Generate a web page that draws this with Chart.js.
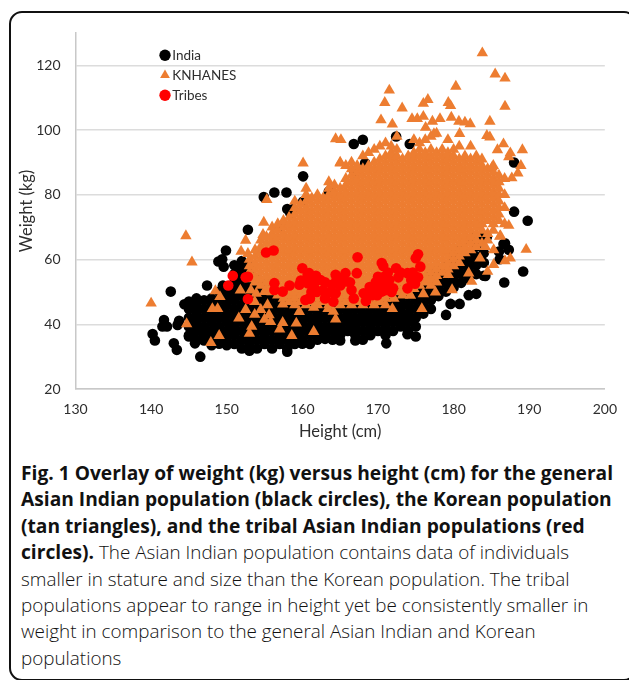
<!DOCTYPE html>
<html>
<head>
<meta charset="utf-8">
<title>Fig. 1</title>
<script src="https://cdn.jsdelivr.net/npm/chart.js@4"></script>
<style>
html, body { margin: 0; padding: 0; background: #fff; }
#page { position: relative; width: 629px; height: 680px; overflow: hidden; }
#frame { position: absolute; left: 9px; top: 11px; width: 628px; height: 670px; border: 2.5px solid #111; border-radius: 13px; box-sizing: border-box; }
#plot { position: absolute; left: 0; top: 0; width: 629px; height: 450px; }
#caption { position: absolute; left: 21px; top: 460px; width: 606px; font-family: "Open Sans", sans-serif; font-size: 18.85px; font-weight: 300; line-height: 26.4px; color: #111; white-space: nowrap; }
#caption b { color: #111; font-weight: 700; font-size: 19.2px; }
</style>
</head>
<body>
<div id="page">
  <div id="frame"></div>
  <div id="plot"><canvas id="chart" width="629" height="450"></canvas></div>
  <div id="caption">
    <b>Fig. 1 Overlay of weight (kg) versus height (cm) for the general<br>
    Asian Indian population (black circles), the Korean population<br>
    (tan triangles), and the tribal Asian Indian populations (red<br>
    circles).</b> The Asian Indian population contains data of individuals<br>
    smaller in stature and size than the Korean population. The tribal<br>
    populations appear to range in height yet be consistently smaller in<br>
    weight in comparison to the general Asian Indian and Korean<br>
    populations
  </div>
</div>
<script>
'use strict';

var seriesNames = ['India', 'KNHANES', 'Tribes'];
var xTicks = [130, 140, 150, 160, 170, 180, 190, 200];
var yTicks = [20, 40, 60, 80, 100, 120];

// India: height column, then the weights read in that column
var indiaColumns = [
  [145, [36.6, 39.3, 42, 44.7, 47]],
  [146, [35.2, 37.9, 40.6, 43.3, 46, 48]],
  [147, [35, 36.6, 39.3, 42, 44.7, 47.4]],
  [148, [33.5, 35.2, 37.9, 40.6, 43.3, 46, 48]],
  [149, [34, 36.6, 39.3, 42, 44.7, 47.4, 50.1]],
  [150, [33.5, 35.2, 37.9, 40.6, 43.3, 46, 48.7, 51.4]],
  [151, [33.9, 36.6, 39.3, 42, 44.7, 47.4, 50.1, 52.8, 55.5, 58.2]],
  [152, [32.5, 35.2, 37.9, 40.6, 43.3, 46, 48.7, 51.4, 54.1, 56.8, 59.5]],
  [153, [31.8, 33.9, 36.6, 39.3, 42, 44.7, 47.4, 50.1, 52.8, 55.5, 58.2]],
  [154, [32.5, 35.2, 37.9, 40.6, 43.3, 46, 48.7, 51.4, 54.1]],
  [155, [33.9, 36.6, 39.3, 42, 44.7, 47.4, 50.1, 52.8]],
  [156, [32.5, 35.2, 37.9, 40.6, 43.3, 46, 48.7]],
  [157, [33.9, 36.6, 39.3, 42, 44.7, 47.4, 50.1]],
  [158, [31.5, 32.5, 35.2, 37.9, 40.6, 43.3, 46, 48.7]],
  [159, [33.9, 36.6, 39.3, 42, 44.7, 47.4]],
  [160, [34, 35.2, 37.9, 40.6, 43.3, 46, 48.7]],
  [161, [33.9, 36.6, 39.3, 42, 44.7, 47.4]],
  [162, [35.2, 37.9, 40.6, 43.3, 46, 48.7]],
  [163, [35.5, 36.6, 39.3, 42, 44.7, 47.4]],
  [164, [35.2, 37.9, 40.6, 43.3, 46, 48.7]],
  [165, [35, 36.6, 39.3, 42, 44.7, 47.4]],
  [166, [37.9, 40.6, 43.3, 46, 48.7]],
  [167, [35, 36.6, 39.3, 42, 44.7, 47.4]],
  [168, [35.2, 37.9, 40.6, 43.3, 46, 48.7]],
  [169, [36.6, 39.3, 42, 44.7, 47.4]],
  [170, [37.9, 40.6, 43.3, 46, 48.7]],
  [171, [36.6, 39.3, 42, 44.7, 47.4, 50.1]],
  [172, [37.9, 40.6, 43.3, 46, 48.7, 51.4]],
  [173, [39.3, 42, 44.7, 47.4, 50.1, 52.8]],
  [174, [37.9, 40.6, 43.3, 46, 48.7, 51.4, 54.1]],
  [175, [39.3, 42, 44.7, 47.4, 50.1, 52.8]],
  [176, [43.3, 46, 48.7, 51.4, 54.1]],
  [177, [44.7, 47.4, 50.1, 52.8, 55.5]],
  [178, [48.7, 51.4, 54.1, 56.8]],
  [179, [50.1, 52.8, 55.5, 58.2]],
  [180, [51.4, 54.1, 56.8, 59.5, 62]],
  [181, [52.8, 55.5, 58.2, 60.9, 63.3]],
  [182, [54.1, 56.8, 59.5, 62.2, 66]],
  [183, [55.5, 58.2, 60.9, 64]],
  [184, [55, 59, 62, 67]]
];
var indiaStragglersX = [160.1, 156.3, 157.9, 154.9, 152.8, 158, 158.8, 160.1, 158.4, 157.1, 149.9, 148.9, 149.4, 149.6, 147.4, 149.5, 142.6, 144.4, 141.7, 141.5, 142.1, 143.7, 143.5, 140.2, 140.5, 143, 143.4, 146.5, 145, 145.8, 179, 179.6, 180.8, 182, 183, 186.7, 189.2, 188, 189.8, 186.6, 187.3, 186.1, 188, 166.8, 168, 172.4, 174.2, 168.3, 166.9, 163.5, 171.1, 182.6, 184.4, 186, 186.8, 184.2, 175, 173.9];
var indiaStragglersY = [85.7, 80.7, 80.7, 79.3, 69.2, 75.6, 75.6, 77.9, 74.4, 70.2, 62.8, 59.4, 60.1, 57.8, 52, 52, 50.1, 46.2, 41.3, 39.3, 39.3, 41.1, 39.8, 37, 35, 34.1, 32.1, 30, 36.2, 34.1, 42.9, 46.3, 46.3, 49, 49.4, 52.9, 56.3, 74.8, 72, 64.8, 63, 60.1, 90, 95.7, 97, 98, 95.7, 89.8, 86.7, 81, 34.1, 66.7, 67, 62.5, 65, 54.9, 36.2, 36.9];

// KNHANES: the solid mass, column by column
var knhanesColumns = [
  [153, [54, 56, 58, 60]],
  [153.75, [53, 55, 57, 59, 61, 63]],
  [154.5, [52, 54, 56, 58, 60, 62, 64, 66]],
  [155.25, [51, 53, 55, 57, 59, 61, 63, 65, 67]],
  [156, [50, 52, 54, 56, 58, 60, 62, 64, 66, 68, 70]],
  [156.75, [49, 51, 53, 55, 57, 59, 61, 63, 65, 67, 69, 71]],
  [157.5, [48, 50, 52, 54, 56, 58, 60, 62, 64, 66, 68, 70, 72]],
  [158.25, [47, 49, 51, 53, 55, 57, 59, 61, 63, 65, 67, 69, 71, 73]],
  [159, [46, 48, 50, 52, 54, 56, 58, 60, 62, 64, 66, 68, 70, 72, 74, 76, 78]],
  [159.75, [47, 49, 51, 53, 55, 57, 59, 61, 63, 65, 67, 69, 71, 73, 75, 77]],
  [160.5, [46, 48, 50, 52, 54, 56, 58, 60, 62, 64, 66, 68, 70, 72, 74, 76, 78, 80, 82]],
  [161.25, [47, 49, 51, 53, 55, 57, 59, 61, 63, 65, 67, 69, 71, 73, 75, 77, 79]],
  [162, [46, 48, 50, 52, 54, 56, 58, 60, 62, 64, 66, 68, 70, 72, 74, 76, 78, 80]],
  [162.75, [47, 49, 51, 53, 55, 57, 59, 61, 63, 65, 67, 69, 71, 73, 75, 77, 79]],
  [163.5, [46, 48, 50, 52, 54, 56, 58, 60, 62, 64, 66, 68, 70, 72, 74, 76, 78, 80, 82, 84]],
  [164.25, [47, 49, 51, 53, 55, 57, 59, 61, 63, 65, 67, 69, 71, 73, 75, 77, 79, 81, 83]],
  [165, [46, 48, 50, 52, 54, 56, 58, 60, 62, 64, 66, 68, 70, 72, 74, 76, 78, 80, 82, 90]],
  [165.75, [47, 49, 51, 53, 55, 57, 59, 61, 63, 65, 67, 69, 71, 73, 75, 77, 79, 81, 83, 85, 89]],
  [166.5, [46, 48, 50, 52, 54, 56, 58, 60, 62, 64, 66, 68, 70, 72, 74, 76, 78, 80, 82, 84, 86, 88, 90]],
  [167.25, [47, 49, 51, 53, 55, 57, 59, 61, 63, 65, 67, 69, 71, 73, 75, 77, 79, 81, 83, 85, 87, 89]],
  [168, [46, 48, 50, 52, 54, 56, 58, 60, 62, 64, 66, 68, 70, 72, 74, 76, 78, 80, 82, 84, 86, 88, 92]],
  [168.75, [47, 49, 51, 53, 55, 57, 59, 61, 63, 65, 67, 69, 71, 73, 75, 77, 79, 81, 83, 85, 87, 89, 93]],
  [169.5, [46, 48, 50, 52, 54, 56, 58, 60, 62, 64, 66, 68, 70, 72, 74, 76, 78, 80, 82, 84, 86, 88, 90, 94]],
  [170.25, [47, 49, 51, 53, 55, 57, 59, 61, 63, 65, 67, 69, 71, 73, 75, 77, 79, 81, 83, 85, 87, 89, 91, 95]],
  [171, [46, 48, 50, 52, 54, 56, 58, 60, 62, 64, 66, 68, 70, 72, 74, 76, 78, 80, 82, 84, 86, 88, 90, 92, 96]],
  [171.75, [49, 51, 53, 55, 57, 59, 61, 63, 65, 67, 69, 71, 73, 75, 77, 79, 81, 83, 85, 87, 89, 91, 93, 95]],
  [172.5, [50, 52, 54, 56, 58, 60, 62, 64, 66, 68, 70, 72, 74, 76, 78, 80, 82, 84, 86, 88, 90, 92, 94, 98]],
  [173.25, [49, 51, 53, 55, 57, 59, 61, 63, 65, 67, 69, 71, 73, 75, 77, 79, 81, 83, 85, 87, 89, 91]],
  [174, [50, 52, 54, 56, 58, 60, 62, 64, 66, 68, 70, 72, 74, 76, 78, 80, 82, 84, 86, 88, 90, 92]],
  [174.75, [51, 53, 55, 57, 59, 61, 63, 65, 67, 69, 71, 73, 75, 77, 79, 81, 83, 85, 87, 89, 91, 93, 97]],
  [175.5, [52, 54, 56, 58, 60, 62, 64, 66, 68, 70, 72, 74, 76, 78, 80, 82, 84, 86, 88, 90, 92, 94, 96]],
  [176.25, [53, 55, 57, 59, 61, 63, 65, 67, 69, 71, 73, 75, 77, 79, 81, 83, 85, 87, 89, 91, 93, 97]],
  [177, [52, 54, 56, 58, 60, 62, 64, 66, 68, 70, 72, 74, 76, 78, 80, 82, 84, 86, 88, 90, 92, 94, 98]],
  [177.75, [53, 55, 57, 59, 61, 63, 65, 67, 69, 71, 73, 75, 77, 79, 81, 83, 85, 87, 89, 91, 93, 99]],
  [178.5, [56, 58, 60, 62, 64, 66, 68, 70, 72, 74, 76, 78, 80, 82, 84, 86, 88, 90, 92, 94]],
  [179.25, [57, 59, 61, 63, 65, 67, 69, 71, 73, 75, 77, 79, 81, 83, 85, 87, 89, 91, 93, 97]],
  [180, [58, 60, 62, 64, 66, 68, 70, 72, 74, 76, 78, 80, 82, 84, 86, 88, 90, 92, 94]],
  [180.75, [59, 61, 63, 65, 67, 69, 71, 73, 75, 77, 79, 81, 83, 85, 87, 89, 91, 95]],
  [181.5, [62, 64, 66, 68, 70, 72, 74, 76, 78, 80, 82, 84, 86, 88, 90, 92]],
  [182.25, [63, 65, 67, 69, 71, 73, 75, 77, 79, 81, 83, 85, 87, 89, 91, 95]],
  [183, [64, 66, 68, 70, 72, 74, 76, 78, 80, 82, 84, 86, 88, 90, 92]],
  [183.75, [65, 69, 71, 73, 75, 77, 79, 81, 83, 85, 87, 89, 91]],
  [184.5, [66, 68, 72, 74, 76, 78, 80, 82, 84, 86, 88]],
  [185.25, [69, 71, 73, 75, 77, 79, 81, 83, 85, 87, 89]],
  [186, [72, 74, 76, 78, 80, 82, 84, 86]],
  [186.75, [71, 76, 80, 85]]
];
var knhanesStragglersX = [183.8, 185.5, 186.8, 186.8, 180.3, 171.5, 170.9, 170.4, 171.9, 173.2, 176.6, 176, 179.3, 179.6, 174.5, 175.2, 176, 177.2, 178.2, 179.7, 180.7, 181.5, 182.2, 184.8, 176.3, 184.4, 184.8, 180.8, 177.4, 189.1, 186.6, 185.8, 187.5, 187.3, 188.9, 185.1, 188.5, 187.7, 164.4, 165.1, 187.3, 189.6, 186.1, 165, 160.1, 155.3, 154.9, 152.5, 144.6, 145.4, 140, 144.7, 147.9, 149, 148.5, 149.1, 148.1, 148.8, 151.6, 151.8, 153, 153.3, 152.5, 153.2, 151.9, 152.8, 154.8, 153.7, 154.5, 155, 155.8, 157, 157.4, 158.6, 159.2, 161.5, 155.6, 153.9, 155, 159.6, 161.5, 153.7, 155.4, 157.4, 163.4, 164.4, 164.1, 171.9, 172.1, 175.8, 174.3, 176, 177.6, 179.8, 179.3, 182, 182.4, 183.5, 184.5, 185.3, 186.8, 187.5, 185.3, 184.2, 186.2];
var knhanesStragglersY = [123.8, 117.3, 116, 107.3, 113.5, 112.3, 108.5, 103.1, 101.8, 106.8, 109.4, 108.2, 108.5, 107.5, 103.5, 103.5, 104.2, 102.7, 103.5, 103.9, 102.7, 102.4, 101.9, 102.7, 100.8, 98.3, 97.8, 98.9, 98.8, 93.9, 95.7, 93.9, 92.9, 91.7, 89, 88.5, 86.7, 85.2, 97.3, 97, 70.5, 63.1, 67.1, 89.8, 89.8, 78.5, 71.5, 65.9, 67.3, 59.2, 46.5, 40.1, 34.3, 36.5, 50.3, 48.5, 44.8, 44.8, 41.9, 50.5, 37.2, 39.3, 44.5, 50.5, 62.5, 61.8, 67.7, 43, 44.5, 41.5, 40.8, 38.5, 40.5, 36.5, 40.3, 37.7, 42.9, 49.5, 50.1, 43.9, 45.2, 47, 46, 46.2, 44.8, 41.6, 44, 44.8, 48, 44.8, 48.9, 49.4, 49.9, 50.6, 55.3, 55.8, 53.2, 60.4, 56.3, 58.4, 59.6, 60.4, 63, 64, 67.3];

var tribesX = [150.8, 150.2, 152.5, 152.8, 152.8, 155.2, 156.2, 156.3, 156.3, 157.4, 158.3, 159.6, 160, 160.9, 160.7, 161.5, 160.4, 161, 161.3, 160.7, 160.9, 162.4, 164.4, 165.7, 167.2, 167.3, 170.5, 170.7, 172.4, 173.9, 175.3, 175, 175.6, 175.3, 174.4, 173.9, 172, 171.1, 170, 170.8, 169.4, 168.1, 168.4, 169.2, 170.5, 166.5, 166.8, 165.7, 164.4, 164.1, 163, 163.9, 163, 161.5, 165, 171.5, 161.9, 162.7, 163.7, 165, 164.5, 166.3, 168.9, 169.7, 170.2, 170.9, 171.8, 172.7, 173, 174.6, 174.9, 171.3, 169.9, 161.2, 159.8, 161.8];
var tribesY = [55, 52, 54.5, 54.7, 47.8, 62.2, 62.8, 52.7, 50.6, 50.1, 52, 52.2, 57.3, 55.8, 52.7, 51.7, 47.5, 48, 54, 55.3, 48, 53.7, 55.3, 55.8, 55.8, 60.7, 58.9, 58, 57.3, 55.8, 61.6, 60.4, 57.8, 54.5, 53.7, 51.1, 51.1, 52.2, 54.7, 54.7, 51.7, 49.6, 47.2, 49, 50.1, 50.6, 48, 53.2, 49.6, 47, 48, 52.2, 53, 52.2, 54.2, 53.7, 50, 50.5, 50, 52, 53.5, 53, 51.5, 53, 52.5, 50.5, 50, 54.5, 56, 56, 52.5, 56, 49, 50, 53.5, 55];

function fromColumns(columns) {
  var points = [];
  columns.forEach(function(column) {
    column[1].forEach(function(w) {
      points.push({ x: column[0], y: w });
    });
  });
  return points;
}

function fromLists(xs, ys) {
  return xs.map(function(x, i) {
    return { x: x, y: ys[i] };
  });
}

var tickFont = { family: 'Lato, sans-serif', size: 14 };
var titleFont = { family: 'Lato, sans-serif', size: 16.5 };
var legendFont = { family: 'Lato, sans-serif', size: 13.5 };
var tickColor = '#2e2e2e';

new Chart(document.getElementById('chart').getContext('2d'), {
  type: 'scatter',
  data: {
    datasets: [
      {
        label: seriesNames[0],
        data: fromColumns(indiaColumns).concat(fromLists(indiaStragglersX, indiaStragglersY)),
        pointStyle: 'circle',
        pointRadius: 5.3,
        pointBackgroundColor: '#000000',
        backgroundColor: '#000000',
        pointBorderWidth: 0,
        order: 3
      },
      {
        label: seriesNames[1],
        data: fromColumns(knhanesColumns).concat(fromLists(knhanesStragglersX, knhanesStragglersY)),
        pointStyle: 'triangle',
        pointRadius: 6.6,
        pointBackgroundColor: '#ED7D31',
        backgroundColor: '#ED7D31',
        pointBorderWidth: 0,
        order: 2
      },
      {
        label: seriesNames[2],
        data: fromLists(tribesX, tribesY),
        pointStyle: 'circle',
        pointRadius: 5.3,
        pointBackgroundColor: '#FF0000',
        backgroundColor: '#FF0000',
        pointBorderWidth: 0,
        order: 1
      }
    ]
  },
  options: {
    responsive: false,
    animation: false,
    layout: { padding: { top: 33, right: 18, left: 0, bottom: 0 } },
    plugins: {
      tooltip: { enabled: false },
      legend: {
        position: 'chartArea',
        align: 'start',
        labels: {
          usePointStyle: true,
          boxHeight: 8,
          boxWidth: 1,
          padding: 6.5,
          color: tickColor,
          font: legendFont,
          sort: function(a, b) { return a.datasetIndex - b.datasetIndex; }
        }
      }
    },
    scales: {
      x: {
        type: 'linear',
        min: 130,
        max: 200,
        afterBuildTicks: function(scale) {
          scale.ticks = xTicks.map(function(v) { return { value: v }; });
        },
        afterFit: function(scale) { scale.height = 61; },
        grid: { display: false, drawTicks: false },
        border: { color: '#c8c8c8', width: 1.5 },
        ticks: { color: tickColor, font: tickFont, padding: 12, maxRotation: 0, autoSkip: false },
        title: { display: true, text: 'Height (cm)', color: tickColor, font: titleFont, padding: { top: 2, bottom: 8 } }
      },
      y: {
        type: 'linear',
        min: 20,
        max: 130,
        afterBuildTicks: function(scale) {
          scale.ticks = yTicks.map(function(v) { return { value: v }; });
        },
        afterFit: function(scale) { scale.width = 75.5; },
        grid: { color: '#dcdcdc', lineWidth: 1.5, drawTicks: false },
        border: { color: '#c8c8c8', width: 1.5 },
        ticks: { color: tickColor, font: tickFont, padding: 15, autoSkip: false },
        title: { display: true, text: 'Weight (kg)', color: tickColor, font: titleFont, padding: { top: 17, bottom: 0 } }
      }
    }
  },
  plugins: [{
    id: 'legendSpot',
    afterLayout: function(chart) {
      var box = chart.legend;
      box.left = 158;
      box.right = box.left + box.width;
      box.top = 42;
      box.bottom = box.top + box.height;
    }
  }]
});
</script>
</body>
</html>
